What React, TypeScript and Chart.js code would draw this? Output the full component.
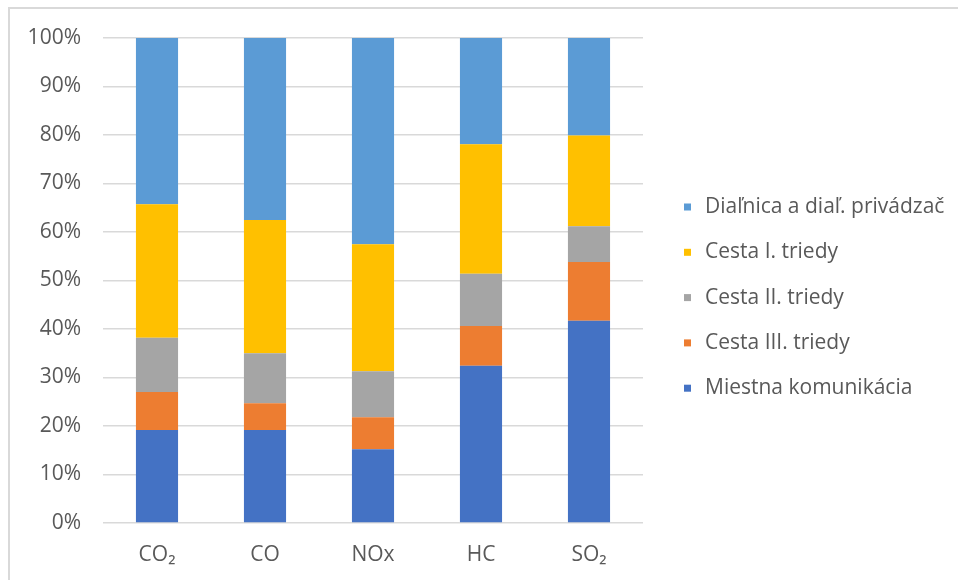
import React, { useEffect, useRef } from "react";
import { Chart, registerables } from "chart.js";

Chart.register(...registerables);

const categories = ["CO₂", "CO", "NOx", "HC", "SO₂"];
const miestna = [19.2, 19.2, 15.2, 32.4, 41.7];
const cestaIII = [7.8, 5.5, 6.6, 8.2, 12.1];
const cestaII = [11.2, 10.3, 9.5, 10.8, 7.4];
const cestaI = [27.5, 27.5, 26.2, 26.7, 18.7];
const dialnica = [34.3, 37.5, 42.5, 21.9, 20.1];
const seriesNames = [
  "Miestna komunikácia",
  "Cesta III. triedy",
  "Cesta II. triedy",
  "Cesta I. triedy",
  "Diaľnica a diaľ. privádzač",
];
const seriesColors = ["#4472C4", "#ED7D31", "#A5A5A5", "#FFC000", "#5B9BD5"];
const yTicks = [0, 10, 20, 30, 40, 50, 60, 70, 80, 90, 100];

const FONT = "'Open Sans', 'Segoe UI', sans-serif";
const TEXT = "#595959";
const SIZE = 21;

const frameLegendPlugin = {
  id: "frameLegend",
  beforeDraw(chart: any) {
    const ctx = chart.ctx;
    ctx.save();
    ctx.strokeStyle = "#d9d9d9";
    ctx.lineWidth = 2;
    ctx.beginPath();
    ctx.moveTo(9, 600);
    ctx.lineTo(9, 8);
    ctx.lineTo(1000, 8);
    ctx.stroke();
    ctx.restore();
  },
  afterDraw(chart: any) {
    const ctx = chart.ctx;
    const area = chart.chartArea;
    const ds = chart.data.datasets;
    ctx.save();
    ctx.font = `${SIZE}px ${FONT}`;
    ctx.textBaseline = "middle";
    ctx.textAlign = "left";
    const boxX = area.right + 41;
    const textX = area.right + 62;
    let y = area.top + 169;
    for (let i = ds.length - 1; i >= 0; i--) {
      ctx.fillStyle = ds[i].backgroundColor;
      ctx.fillRect(boxX, y - 3.5, 7, 7);
      ctx.fillStyle = TEXT;
      ctx.fillText(ds[i].label, textX, y);
      y += 45.3;
    }
    ctx.restore();
  },
};

export default function App() {
  const ref = useRef<HTMLCanvasElement | null>(null);
  useEffect(() => {
    if (!ref.current) return;
    const values = [miestna, cestaIII, cestaII, cestaI, dialnica];
    const chart = new Chart(ref.current, {
      type: "bar",
      data: {
        labels: categories,
        datasets: values.map((v, i) => ({
          label: seriesNames[i],
          data: v,
          backgroundColor: seriesColors[i],
          borderWidth: 0,
          categoryPercentage: 1,
          barPercentage: 0.39,
        })),
      },
      options: {
        animation: false,
        responsive: false,
        devicePixelRatio: 1,
        layout: { padding: { left: 0, top: 38, right: 315, bottom: 0 } },
        plugins: {
          legend: { display: false },
          tooltip: { enabled: false },
        },
        scales: {
          x: {
            stacked: true,
            grid: { display: false, drawTicks: false },
            border: { display: false },
            ticks: {
              color: TEXT,
              font: { family: FONT, size: SIZE },
              padding: 19,
            },
            afterFit: (s: any) => {
              s.height = 57;
            },
          },
          y: {
            stacked: true,
            min: 0,
            max: 100,
            afterBuildTicks: (s: any) => {
              s.ticks = yTicks.map((v) => ({ value: v }));
            },
            grid: { color: "#d9d9d9", lineWidth: 1.5, drawTicks: false },
            border: { display: false },
            ticks: {
              color: TEXT,
              font: { family: FONT, size: SIZE },
              padding: 22,
              callback: (v: any) => `${v}%`,
            },
            afterFit: (s: any) => {
              s.width = 103;
            },
          },
        },
      },
      plugins: [frameLegendPlugin],
    });
    return () => chart.destroy();
  }, []);
  return (
    <div style={{ position: "fixed", left: 0, top: 0, width: 958, height: 580, background: "#fff", overflow: "hidden" }}>
      <canvas ref={ref} width={958} height={580} style={{ display: "block" }} />
    </div>
  );
}
